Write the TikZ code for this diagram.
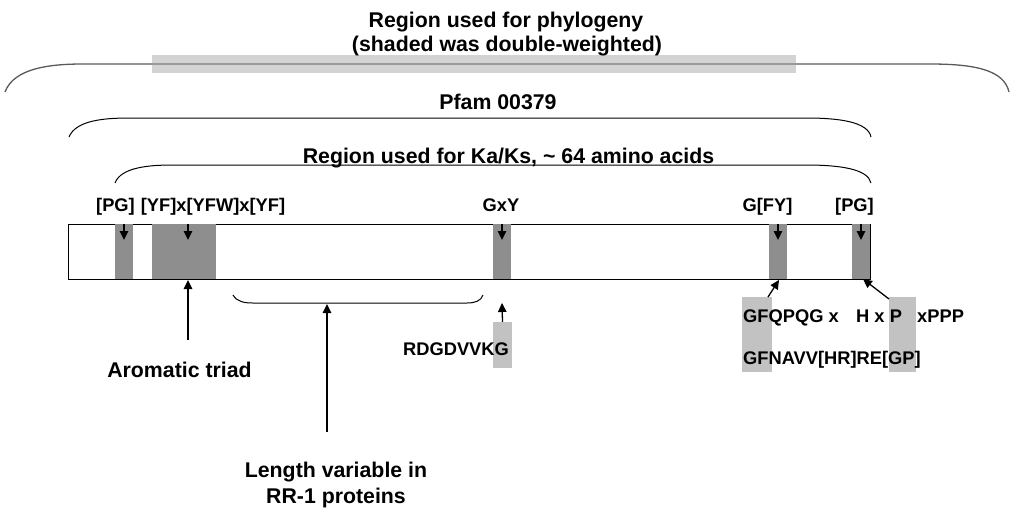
\documentclass[tikz,border=0pt]{standalone}
\usepackage{fontspec}
\setmainfont{Liberation Sans}
\usetikzlibrary{arrows.meta}
\definecolor{blkgray}{HTML}{8E8E8E}
\definecolor{litegray}{HTML}{C2C2C2}
\definecolor{shadegray}{HTML}{D3D3D3}
\definecolor{linegray}{HTML}{5A5A5A}
\begin{document}
\begin{tikzpicture}[x=1pt,y=-1pt,
  big/.style={font=\fontsize{21.3}{24}\selectfont\bfseries, inner sep=0pt, anchor=base},
  small/.style={font=\fontsize{18.3}{21}\selectfont\bfseries, inner sep=0pt, anchor=base},
  smallw/.style={small, anchor=base west},
  blk/.style={fill=blkgray, draw=none, inner sep=0pt, minimum height=55pt},
  litebox/.style={fill=litegray, draw=none, inner sep=0pt},
  arr/.style={line width=1.3pt, -{Triangle[width=8.5pt,length=9pt]}},
  brk/.style={line width=1pt, black}]
\useasboundingbox (0,0) rectangle (1023,515);
% ---- top bracket (phylogeny)
\draw[linegray, line width=1.3pt] (5,92) .. controls (14,68) and (50,64) .. (83,64) -- (930,64) .. controls (975,64) and (1004,70) .. (1009,92);
\node[fill=shadegray, inner sep=0pt, minimum width=644pt, minimum height=18pt] (shade) at (474,64) {};
\draw[gray!80, line width=1.3pt] (shade.west) -- (shade.east);
\node[big] (phyl) at (506,27) {Region used for phylogeny};
\node[big] (phyl2) at (507,51) {(shaded was double-weighted)};
% ---- Pfam bracket
\draw[brk] (69,137) .. controls (76,120) and (105,118) .. (130,118) -- (806,118) .. controls (840,118) and (868,122) .. (871,137);
\node[big] (pfam) at (498,109) {Pfam 00379};
% ---- Ka/Ks bracket
\draw[brk] (115,183) .. controls (121,167) and (150,165) .. (173,165) -- (806,165) .. controls (840,165) and (868,169) .. (871,183);
\node[big] (kaks) at (508.5,163) {Region used for Ka/Ks, \textasciitilde{} 64 amino acids};
% ---- main bar
\node[draw=black, line width=1pt, inner sep=0pt, minimum width=802pt, minimum height=55pt] (bar) at (469,251.5) {};
\node[blk, minimum width=18pt] (b1) at (124,251.5) {};
\node[blk, minimum width=64pt] (b2) at (184,251.5) {};
\node[blk, minimum width=18pt] (b3) at (502,251.5) {};
\node[blk, minimum width=18pt] (b4) at (778,251.5) {};
\node[blk, minimum width=18pt] (b5) at (861,251.5) {};
% ---- motif labels
\node[small] (l1) at (115.5,211) {[PG]};
\node[small] (l2) at (213,211) {[YF]x[YFW]x[YF]};
\node[small] (l3) at (501,211) {GxY};
\node[small] (l4) at (767.5,211) {G[FY]};
\node[small] (l5) at (854.5,211) {[PG]};
\coordinate (s1) at (124,224); \coordinate (t1) at (124,240);
\coordinate (s2) at (188,224); \coordinate (t2) at (188,240);
\coordinate (s3) at (502,224); \coordinate (t3) at (502,240);
\coordinate (s4) at (778,224); \coordinate (t4) at (778,240);
\coordinate (s5) at (861,224); \coordinate (t5) at (861,240);
\foreach \i in {1,...,5} { \draw[arr] (s\i) -- (t\i); }
% ---- lower bracket
\draw[brk] (233,295) .. controls (237,302) and (245,303) .. (253,303) -- (467,303) .. controls (475,303) and (481,301) .. (483,295);
% ---- aromatic triad
\coordinate (ar0) at (188,340);
\coordinate (ar1) at (188,280);
\draw[arr] (ar0) -- (ar1);
\node[big] (arom) at (179.5,377) {Aromatic triad};
% ---- length variable
\coordinate (lv0) at (327,432);
\coordinate (lv1) at (327,304);
\draw[arr] (lv0) -- (lv1);
\node[big] (lv) at (336,477) {Length variable in};
\node[big] (rr) at (336,503) {RR-1 proteins};
% ---- RDGDVVKG
\node[litebox, minimum width=19pt, minimum height=46pt] (g1) at (502.5,345) {};
\node[small] (rdg) at (456,355) {RDGDVVKG};
\coordinate (g1t) at (502,303);
\draw[arr] (g1.north) -- (g1t);
% ---- right side
\node[litebox, minimum width=30pt, minimum height=75pt] (g2) at (757,334.5) {};
\node[litebox, minimum width=27pt, minimum height=75pt] (g3) at (902.5,334.5) {};
\node[smallw] (r1) at (743,322) {GFQPQG x};
\node[smallw] (r2) at (856,322) {H x P};
\node[smallw] (r3) at (917,322) {xPPP};
\node[smallw] (r4) at (743,364) {GFNAVV[HR]RE[GP]};
\coordinate (a4s) at (768,297); \coordinate (a4t) at (779,280);
\coordinate (a5s) at (889,299); \coordinate (a5t) at (863,279);
\draw[arr] (a4s) -- (a4t);
\draw[arr] (a5s) -- (a5t);
\end{tikzpicture}
\end{document}
